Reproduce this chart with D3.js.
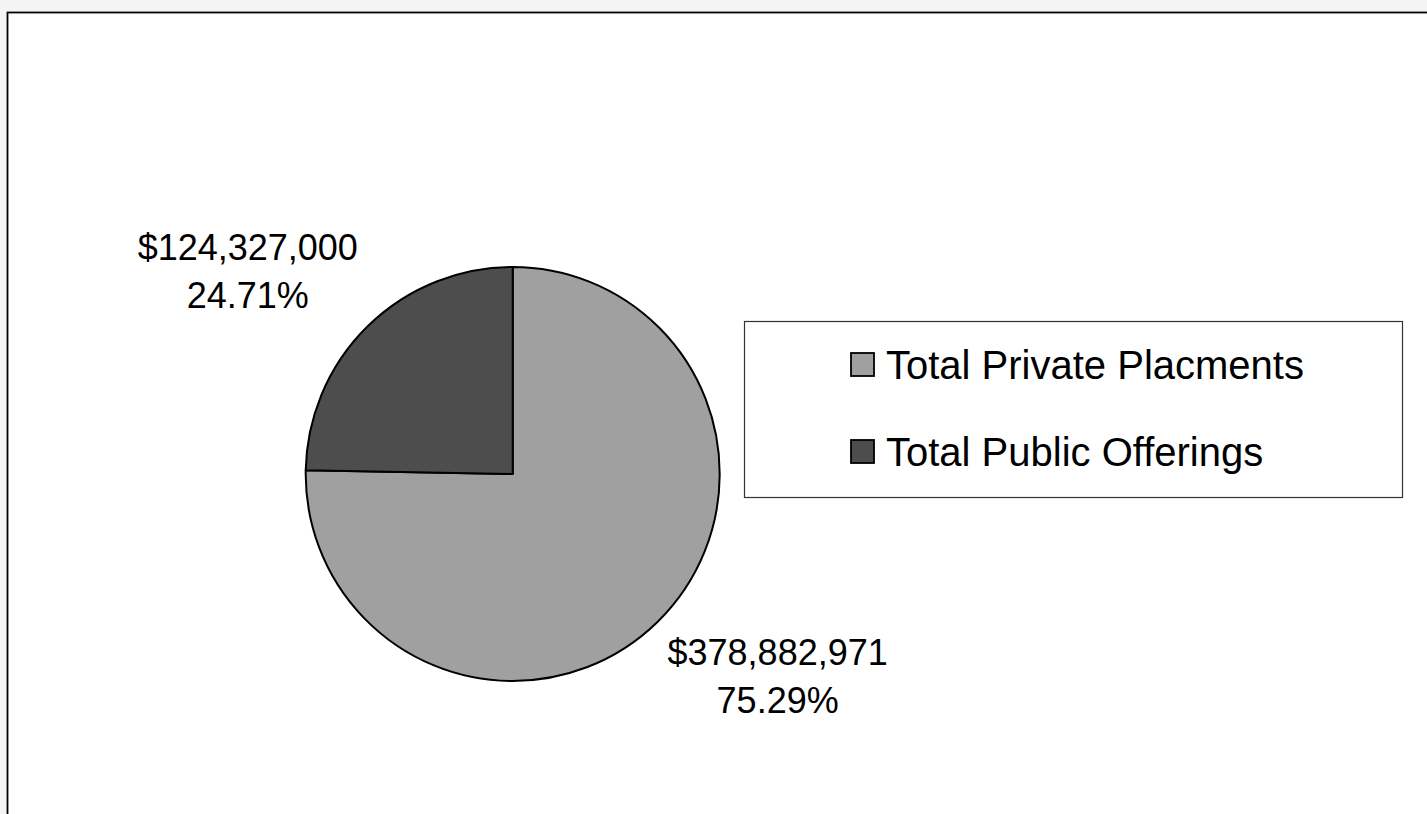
<!DOCTYPE html>
<html>
<head>
<meta charset="utf-8">
<script src="https://cdn.jsdelivr.net/npm/d3@7"></script>
<style>
    body { margin: 0; background: #f4f4f4; }
    svg { display: block; }
</style>
</head>
<body>
<div id="chart"></div>
<script>
let categories = ["Total Private Placments", "Total Public Offerings"];
let values = [378882971, 124327000];
let colors = ["#a0a0a0", "#4d4d4d"];

let svgWidth = 1427;
let svgHeight = 814;
let center = { x: 512.7, y: 474 };
let radius = 207;

let svg = d3.select("#chart")
    .append("svg")
    .attr("width", svgWidth)
    .attr("height", svgHeight);

// chart area frame (runs off right and bottom edges)
svg.append("rect")
    .attr("x", 7.5)
    .attr("y", 12.5)
    .attr("width", svgWidth + 20)
    .attr("height", svgHeight + 20)
    .attr("fill", "#ffffff")
    .attr("stroke", "#000")
    .attr("stroke-width", 1.8);

let total = d3.sum(values);
let fmtMoney = d3.format("$,");
let fmtPct = d3.format(".2%");

let pie = d3.pie().sort(null).value(d => d);
let arcs = pie(values);
let arc = d3.arc().innerRadius(0).outerRadius(radius);

let chart = svg.append("g")
    .attr("transform", `translate(${center.x}, ${center.y})`);

chart.selectAll("path")
    .data(arcs)
    .enter()
    .append("path")
    .attr("d", arc)
    .attr("fill", (d, i) => colors[i])
    .attr("stroke", "#000")
    .attr("stroke-width", 2)
    .attr("stroke-linejoin", "round");

// outside-end labels
let labelArc = d3.arc().innerRadius(radius + 14).outerRadius(radius + 14);
arcs.forEach(function (d, i) {
    let p = labelArc.centroid(d);
    let g = chart.append("g");
    let t = g.append("text")
        .attr("text-anchor", "middle")
        .attr("font-family", "Liberation Sans, Arial, sans-serif")
        .attr("font-size", 36)
        .attr("fill", "#000");
    t.append("tspan").attr("x", 0).attr("y", 0).text(fmtMoney(values[i]));
    t.append("tspan").attr("x", 0).attr("y", 48).text(fmtPct(values[i] / total));
    let bb = t.node().getBBox();
    let cx = p[0] + Math.sign(p[0]) * bb.width / 2;
    let cy = p[1] + Math.sign(p[1]) * bb.height / 2;
    g.attr("transform", `translate(${cx}, ${cy - (bb.y + bb.height / 2)})`);
});

// legend
let legend = svg.append("g");
legend.append("rect")
    .attr("x", 744.5)
    .attr("y", 321.5)
    .attr("width", 658)
    .attr("height", 176)
    .attr("fill", "#fff")
    .attr("stroke", "#333")
    .attr("stroke-width", 1.2);

let rows = legend.selectAll("g.row")
    .data(categories)
    .enter()
    .append("g")
    .attr("class", "row")
    .attr("transform", (d, i) => `translate(851, ${353 + i * 87})`);

rows.append("rect")
    .attr("width", 23)
    .attr("height", 23)
    .attr("fill", (d, i) => colors[i])
    .attr("stroke", "#000")
    .attr("stroke-width", 1.8);

rows.append("text")
    .attr("x", 35)
    .attr("y", 26)
    .attr("font-family", "Liberation Sans, Arial, sans-serif")
    .attr("font-size", 40)
    .attr("fill", "#000")
    .text(d => d);
</script>
</body>
</html>
